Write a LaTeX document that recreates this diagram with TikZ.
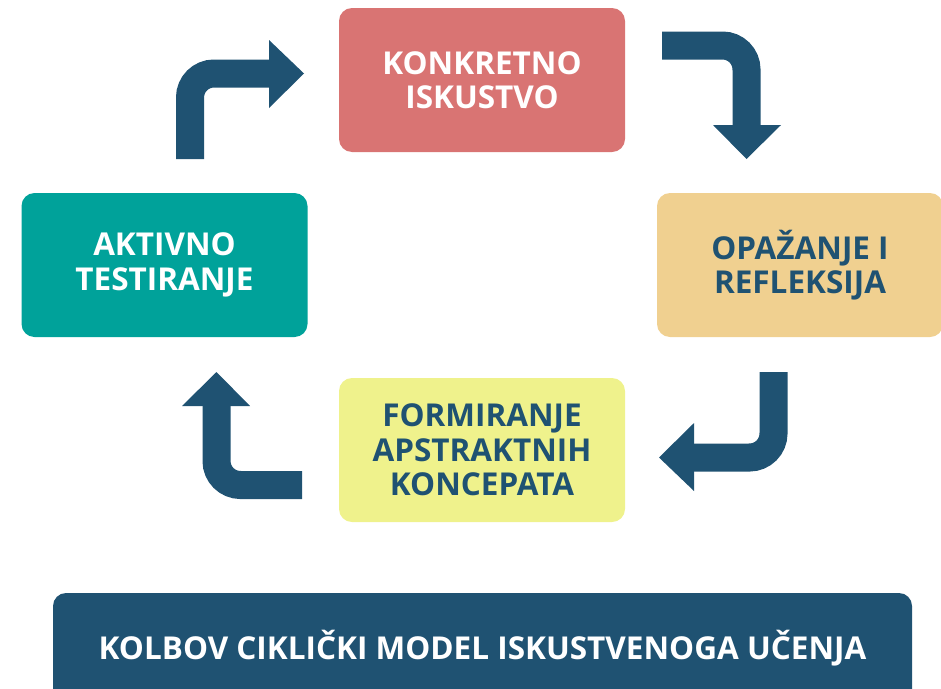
\documentclass[tikz,border=0pt]{standalone}
\usepackage{fontspec}
\setmainfont{Open Sans}
\usepackage{tikz}
\usetikzlibrary{positioning}
\definecolor{salmon}{HTML}{D97473}
\definecolor{peach}{HTML}{F0D090}
\definecolor{lemon}{HTML}{EFF28C}
\definecolor{tealbox}{HTML}{00A29A}
\definecolor{navy}{HTML}{1F5272}

\begin{document}
\begin{tikzpicture}[x=1pt,y=-1pt,
  box/.style={rectangle, rounded corners=13pt, minimum width=286pt,
    minimum height=144pt, inner sep=0pt, align=center,
    font=\bfseries\fontsize{31.5}{34.5}\selectfont},
  shaft/.style={draw=navy, line width=28pt, rounded corners=24pt},
  head/.style={fill=navy}]
\useasboundingbox (0,0) rectangle (941,688);

% the four stages
\node[box, fill=salmon, text=white] (konkretno) at (482,80) {KONKRETNO\\ISKUSTVO};
\node[box, fill=peach, text=navy] (opazanje) at (800,265) {OPAŽANJE I\\REFLEKSIJA};
\node[box, fill=lemon, text=navy] (formiranje) at (482,450) {FORMIRANJE\\APSTRAKTNIH\\KONCEPATA};
\node[box, fill=tealbox, text=white] (aktivno) at (164.5,265) {AKTIVNO\\TESTIRANJE};

% title bar
\node[fill=navy, text=white, rounded corners=13pt, minimum width=859pt,
  minimum height=110pt, inner sep=0pt,
  font=\bfseries\fontsize{31.5}{34}\selectfont] (naslov) at (482.5,648)
  {KOLBOV CIKLIČKI MODEL ISKUSTVENOGA UČENJA};

% arrow: aktivno -> konkretno
\coordinate (a1s) at (190,159);
\coordinate (a1k) at (190,73.5);
\coordinate (a1e) at (269,73.5);
\draw[shaft] (a1s) -- (a1k) -- (a1e);
\fill[head] (269,40) -- (304,73.5) -- (269,108) -- cycle;

% arrow: konkretno -> opazanje
\coordinate (a2s) at (662,45.5);
\coordinate (a2k) at (746.5,45.5);
\coordinate (a2e) at (746.5,125);
\draw[shaft] (a2s) -- (a2k) -- (a2e);
\fill[head] (713,125) -- (746.5,159) -- (781,125) -- cycle;

% arrow: opazanje -> formiranje
\coordinate (a3s) at (773.5,372);
\coordinate (a3k) at (773.5,457.5);
\coordinate (a3e) at (694,457.5);
\draw[shaft] (a3s) -- (a3k) -- (a3e);
\fill[head] (694,423) -- (659,457.5) -- (694,491) -- cycle;

% arrow: formiranje -> aktivno
\coordinate (a4s) at (302,485);
\coordinate (a4k) at (216.5,485);
\coordinate (a4e) at (216.5,406);
\draw[shaft] (a4s) -- (a4k) -- (a4e);
\fill[head] (182,406) -- (216.5,372) -- (250,406) -- cycle;

\end{tikzpicture}
\end{document}
